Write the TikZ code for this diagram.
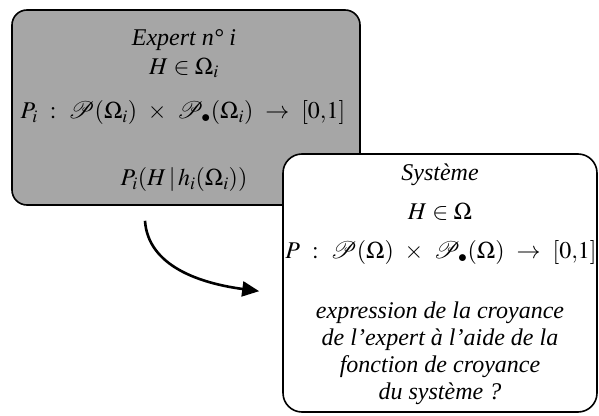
\documentclass[tikz,border=0pt]{standalone}
\usepackage{mathptmx}
\usepackage{fontspec}
\setmainfont{Liberation Serif}
\usetikzlibrary{arrows.meta}
\tikzset{
  panel/.style={draw=black, line width=1.6pt, inner sep=0pt},
  expertbox/.style={panel, fill=black!35, rounded corners=15pt, minimum width=348pt, minimum height=195pt},
  sysbox/.style={panel, fill=white, rounded corners=19pt, minimum width=314pt, minimum height=258pt},
  txt/.style={inner sep=0pt, font=\fontsize{24}{27}\selectfont, align=center},
  widemath/.style={txt, execute at begin node={\thickmuskip=9mu\medmuskip=8mu}},
  flow/.style={line width=2.6pt, -{Triangle[length=17pt,width=15pt]}}
}
\begin{document}
\begin{tikzpicture}[x=1pt,y=1pt]
\useasboundingbox (0,0) rectangle (599,415);
\node[expertbox] (expert) at (186,307.5) {};
\node[txt] (e1) at (184,375) {\textit{Expert n° i}};
\node[txt] (e2) at (184,347) {$H\in\Omega_i$};
\node[widemath] (e3) at (183,302) {$P_i:\mathcal{P}(\Omega_i)\times\mathcal{P}_{\bullet}(\Omega_i)\rightarrow[0{,}1]$};
\node[txt] (e4) at (184,235) {$P_i(H\,|\,h_i(\Omega_i))$};
\node[sysbox] (sys) at (440,132) {};
\node[txt] (s1) at (440,240) {\textit{Système}};
\node[txt] (s2) at (440,203) {$H\in\Omega$};
\node[widemath] (s3) at (441,162) {$P:\mathcal{P}(\Omega)\times\mathcal{P}_{\bullet}(\Omega)\rightarrow[0{,}1]$};
\node[txt] (s4) at (440,62) {\textit{expression de la croyance}\\\textit{de l'expert à l'aide de la}\\\textit{fonction de croyance}\\\textit{du système ?}};
\coordinate (a0) at ([xshift=-41pt,yshift=-15pt]expert.south);
\coordinate (a1) at ([xshift=-23pt,yshift=-138pt]sys.north west);
\draw[flow] (a0) .. controls ++(3,-45) and ++(-60,8) .. (a1);
\end{tikzpicture}
\end{document}
